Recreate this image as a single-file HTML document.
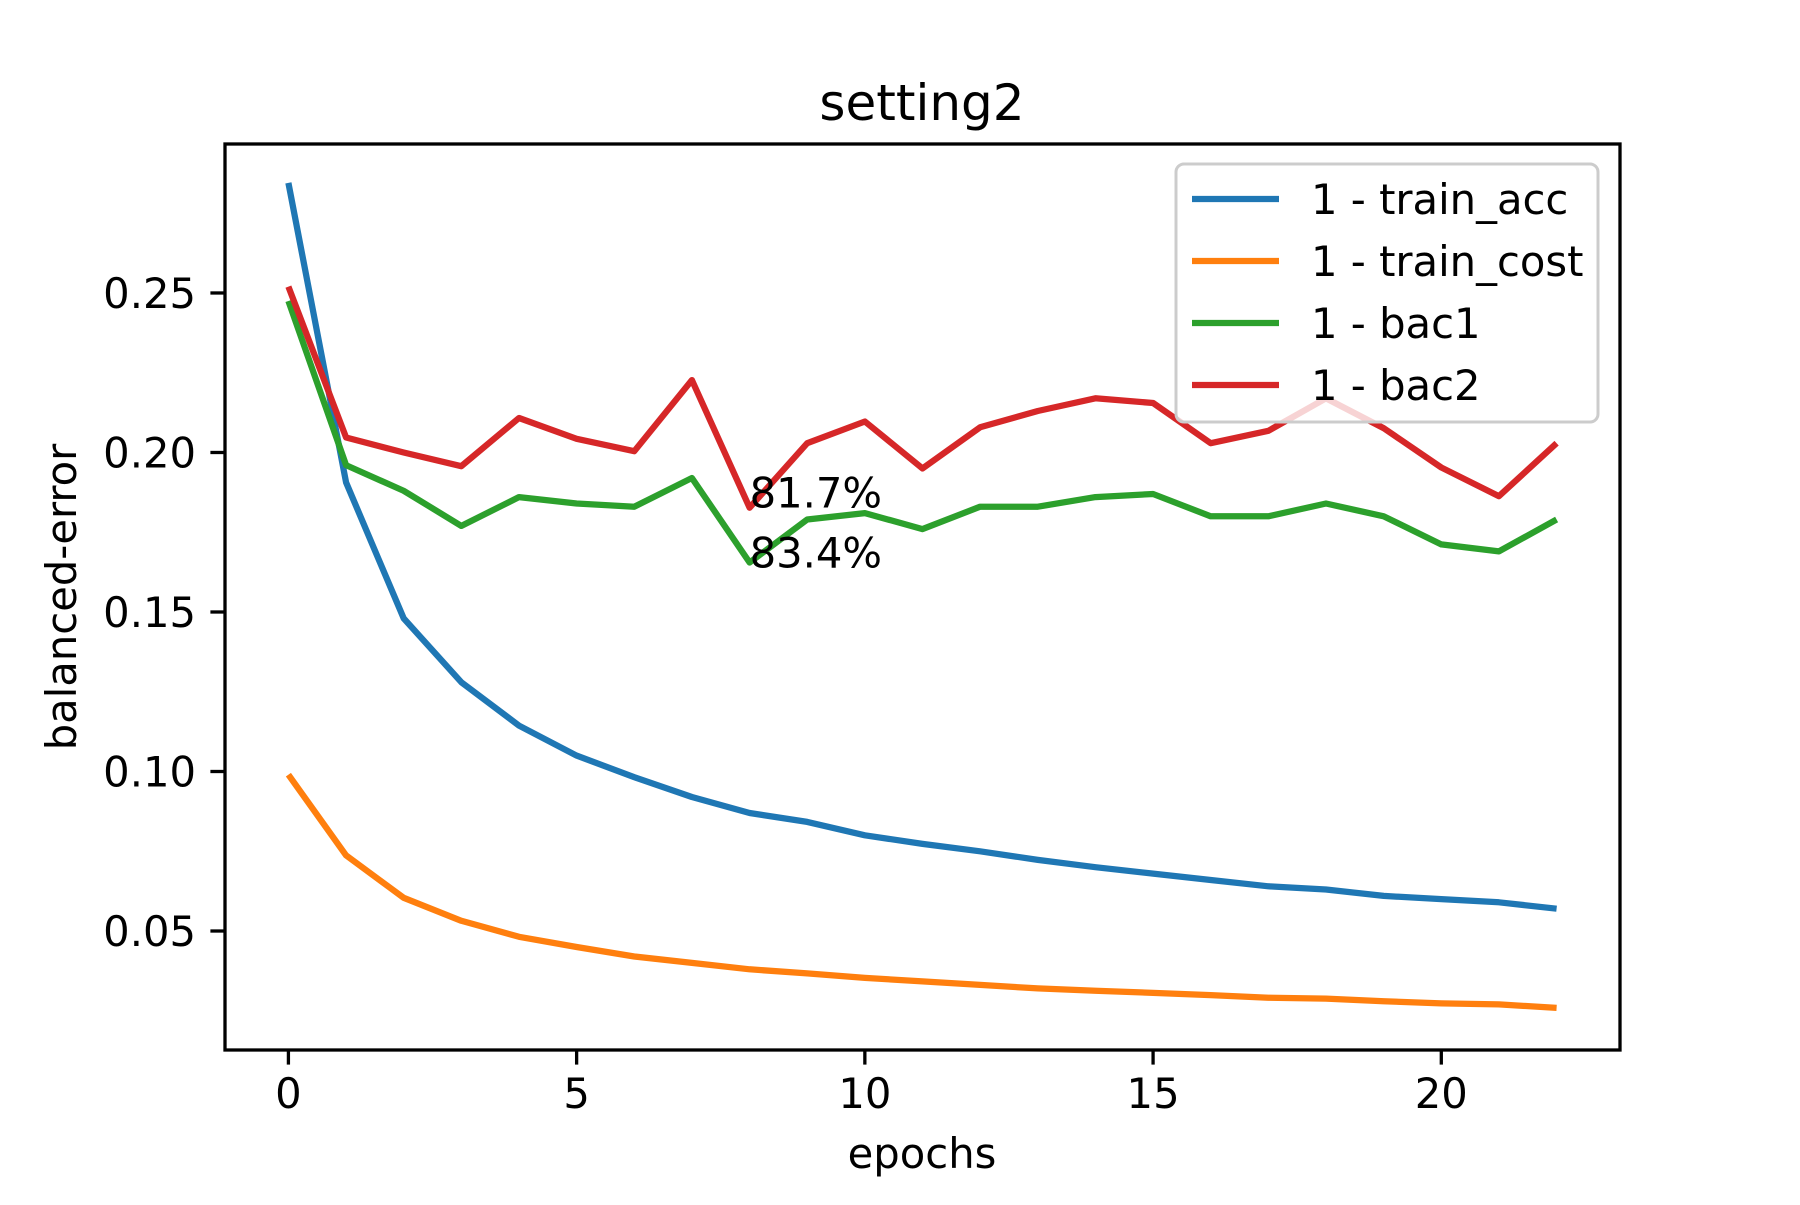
<!DOCTYPE html>
<html><head><meta charset="utf-8"><style>
html,body{margin:0;padding:0;background:#fff;}
svg text{font-family:"DejaVu Sans","Liberation Sans",sans-serif;fill:#000;}
</style></head><body>
<svg id="chart" width="1800" height="1200" xmlns="http://www.w3.org/2000/svg">
<rect width="1800" height="1200" fill="#fff"/>
<text x="922" y="120" font-size="50" text-anchor="middle">setting2</text>
<g id="plot"></g>
<rect x="225" y="144" width="1395" height="906" fill="none" stroke="#000" stroke-width="3.3"/>
<text x="922" y="1168" font-size="41.7" text-anchor="middle">epochs</text>
<text x="0" y="0" font-size="41.7" text-anchor="middle" transform="translate(76,597) rotate(-90)">balanced-error</text>
<g id="legend">
<rect x="1176" y="164" width="422" height="258" rx="8" fill="#fff" fill-opacity="0.8" stroke="#ccc" stroke-width="3"/>
</g>
</svg>
<script>
const epochs=[0,1,2,3,4,5,6,7,8,9,10,11,12,13,14,15,16,17,18,19,20,21,22];
const trainAcc=[0.2845,0.1906,0.148,0.128,0.1144,0.105,0.0982,0.092,0.087,0.0842,0.080,0.0773,0.075,0.0723,0.070,0.068,0.066,0.064,0.063,0.061,0.060,0.059,0.057];
const trainCost=[0.099,0.0737,0.0604,0.0532,0.0482,0.045,0.042,0.040,0.038,0.0367,0.0353,0.0342,0.0331,0.032,0.0313,0.0306,0.0299,0.0291,0.0288,0.028,0.0273,0.027,0.0259];
const bac1=[0.2475,0.196,0.188,0.177,0.186,0.184,0.183,0.192,0.1655,0.179,0.181,0.176,0.183,0.183,0.186,0.187,0.180,0.180,0.184,0.180,0.1712,0.169,0.179];
const bac2=[0.252,0.2047,0.200,0.1957,0.2108,0.2043,0.2004,0.2227,0.1827,0.2029,0.2097,0.195,0.2079,0.213,0.217,0.2155,0.2029,0.2068,0.217,0.2076,0.1953,0.1863,0.2029];
const xTicks=[0,5,10,15,20];
const yTicks=[0.05,0.10,0.15,0.20,0.25];
const seriesNames=["1 - train_acc","1 - train_cost","1 - bac1","1 - bac2"];
const annoText=["81.7%","83.4%"];
const annoIndex=8;

const NS="http://www.w3.org/2000/svg";
const L=225,R=1620,T=144,B=1050;
const xmin=-1.1,xmax=23.1;
const ymin=0.0127,ymax=0.2967;
const sx=v=>L+(v-xmin)/(xmax-xmin)*(R-L);
const sy=v=>B-(v-ymin)/(ymax-ymin)*(B-T);
const svg=document.getElementById('chart');
const plot=document.getElementById('plot');
function mk(tag,attrs,parent){const e=document.createElementNS(NS,tag);for(const k in attrs)e.setAttribute(k,attrs[k]);(parent||svg).appendChild(e);return e;}

xTicks.forEach(t=>{
  const l=mk('line',{x1:sx(t),x2:sx(t),y1:B,y2:B+14.6,stroke:'#000','stroke-width':3.3});
  
  
  const tx=mk('text',{x:sx(t),y:B+58,'font-size':41.7,'text-anchor':'middle'});
  tx.textContent=String(t);
  
  
});
yTicks.forEach(t=>{
  const l=mk('line',{x1:L-14.6,x2:L,y1:sy(t),y2:sy(t),stroke:'#000','stroke-width':3.3});
  
  
  const tx=mk('text',{x:L-29,y:sy(t)+15,'font-size':41.7,'text-anchor':'end'});
  tx.textContent=t.toFixed(2);
  
  
});

const series=[trainAcc,trainCost,bac1,bac2];
const colors=['#1f77b4','#ff7f0e','#2ca02c','#d62728'];
const names=['train-acc-line','train-cost-line','bac1-line','bac2-line'];
series.forEach((s,i)=>{
  const d=s.map((v,j)=>(j?'L':'M')+sx(epochs[j]).toFixed(1)+','+sy(v).toFixed(1)).join(' ');
  const p=mk('path',{d:d,fill:'none',stroke:colors[i],'stroke-width':6.25,'stroke-linejoin':'round','stroke-linecap':'butt'},plot);
  
  
});
[[bac2,annoText[0],0],[bac1,annoText[1],5]].forEach(([s,txt,dy],i)=>{
  const t=mk('text',{x:sx(epochs[annoIndex]),y:sy(s[annoIndex])+dy,'font-size':41.7},plot);
  t.textContent=txt;
  
  
});
const lg=document.getElementById('legend');
seriesNames.forEach((n,i)=>{
  const y=199+i*62;
  const l=mk('line',{x1:1192,x2:1279,y1:y,y2:y,stroke:colors[i],'stroke-width':6.25},lg);
  
  
  const t=mk('text',{x:1311,y:y+15,'font-size':41.7},lg);
  t.textContent=n;
  
  
});
</script>
</body></html>
